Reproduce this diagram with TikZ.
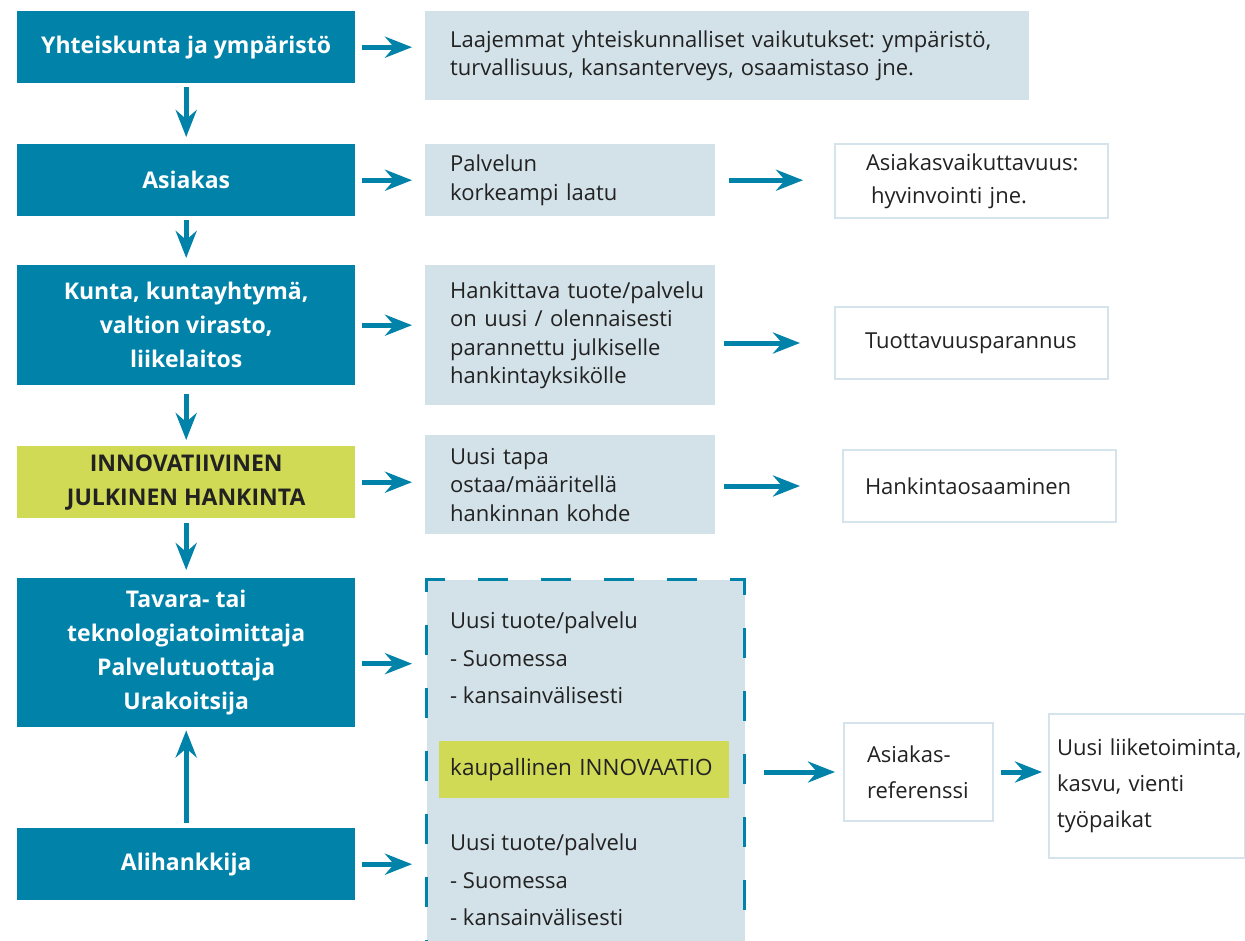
\documentclass[tikz,border=0pt]{standalone}
\usepackage{fontspec}
\setmainfont{Open Sans}
\usetikzlibrary{arrows.meta}
\frenchspacing

\definecolor{hblue}{HTML}{0082A9}
\definecolor{hlime}{HTML}{D1DA55}
\definecolor{hgrey}{HTML}{D3E1E8}
\definecolor{hedge}{HTML}{D5E4EC}
\definecolor{htext}{HTML}{222222}

\tikzset{
  lbox/.style={fill=hblue, text=white, anchor=north west, inner sep=0pt,
    minimum width=338pt, minimum height=72pt, align=center,
    font=\fontsize{23}{34}\selectfont\bfseries},
  gbox/.style={fill=hgrey, text=htext, anchor=north west, inner xsep=0pt, inner ysep=0pt,
    align=left, execute at begin node={\leftskip=25pt},
    font=\fontsize{22}{28.5}\selectfont},
  wbox/.style={fill=white, draw=hedge, line width=2pt, text=htext, anchor=north west,
    inner xsep=0pt, inner ysep=0pt, align=left,
    font=\fontsize{22}{36}\selectfont},
  itext/.style={text=htext, anchor=north west, inner sep=0pt, align=left,
    font=\fontsize{22}{37.5}\selectfont},
  arr/.style={draw=hblue, line width=5pt, -{Stealth[length=27pt,width=21pt,inset=9pt]}},
}

\begin{document}
\begin{tikzpicture}[x=1pt,y=-1pt]
\useasboundingbox (0,0) rectangle (1245,941);
% left column
\node[lbox] (yht) at (17,11) {Yhteiskunta ja ympäristö};
\node[lbox] (asi) at (17,144) {Asiakas};
\node[lbox, minimum height=120pt] (kun) at (17,265) {Kunta, kuntayhtymä,\\valtion virasto,\\liikelaitos};
\node[lbox, fill=hlime, text=htext] (ijh) at (17,446) {INNOVATIIVINEN\\JULKINEN HANKINTA};
\node[lbox, minimum height=149pt] (tav) at (17,578) {Tavara- tai\\teknologiatoimittaja\\Palvelutuottaja\\Urakoitsija};
\node[lbox] (ali) at (17,828) {Alihankkija};
%
% middle column
\node[gbox, text width=604pt, minimum height=89pt] (laa) at (425,11) {Laajemmat yhteiskunnalliset vaikutukset: ympäristö,\\turvallisuus, kansanterveys, osaamistaso jne.};
\node[gbox, text width=290pt, minimum height=72pt] (pal) at (425,144) {Palvelun\\korkeampi laatu};
\node[gbox, text width=290pt, minimum height=140pt] (hkt) at (425,265) {Hankittava tuote/palvelu\\on uusi / olennaisesti\\parannettu julkiselle\\hankintayksikölle};
\node[gbox, text width=290pt, minimum height=99pt] (uta) at (425,435) {Uusi tapa\\ostaa/määritellä\\hankinnan kohde};
\node[fill=hgrey, draw=hblue, line width=3pt, dash pattern=on 30pt off 33pt, anchor=north west,
  inner sep=0pt, minimum width=318pt, minimum height=390pt] (uus) at (425,578) {};
\node[itext] (ut1) at (450,612) {Uusi tuote/palvelu\\- Suomessa\\- kansainvälisesti};
\node[fill=hlime, text=htext, anchor=north west, inner sep=0pt, minimum width=290pt, minimum height=57pt,
  text width=290pt, align=left, execute at begin node={\leftskip=11pt},
  font=\fontsize{22.5}{28}\selectfont] (kin) at (439,741) {kaupallinen INNOVAATIO};
\node[itext] (ut2) at (450,834) {Uusi tuote/palvelu\\- Suomessa\\- kansainvälisesti};
%
% right column
\node[wbox, text width=273pt, minimum height=74pt, font=\fontsize{22}{33}\selectfont,
  execute at begin node={\leftskip=31pt}] (asv) at (834,143) {Asiakasvaikuttavuus:\\\hspace*{5pt}hyvinvointi jne.};
\node[wbox, text width=273pt, minimum height=72pt, execute at begin node={\leftskip=30pt}] (tuo) at (834,306) {Tuottavuusparannus};
\node[wbox, text width=273pt, minimum height=72pt, execute at begin node={\leftskip=22pt}] (hos) at (842,449) {Hankintaosaaminen};
\node[wbox, text width=149pt, minimum height=98pt, execute at begin node={\leftskip=23pt}] (ref) at (843,722) {Asiakas-\\referenssi};
\node[wbox, text width=196pt, minimum height=144pt, execute at begin node={\leftskip=8pt}] (liik) at (1048,713) {Uusi liiketoiminta,\\kasvu, vienti\\työpaikat};
%
% arrows down the left column
\draw[arr, shorten <=4pt, shorten >=7pt] (yht) -- (asi);
\draw[arr, shorten <=4pt, shorten >=7pt] (asi) -- (kun);
\draw[arr, shorten <=9pt, shorten >=6pt] (kun) -- (ijh);
\draw[arr, shorten <=5pt, shorten >=8pt] (ijh) -- (tav);
\draw[arr, shorten <=5pt, shorten >=3pt] (ali) -- (tav);
%
% arrows to the right
\draw[arr, shorten <=7pt, shorten >=13pt] (yht.east) -- (yht.east -| laa.west);
\draw[arr, shorten <=7pt, shorten >=13pt] (asi.east) -- (asi.east -| pal.west);
\draw[arr, shorten <=7pt, shorten >=13pt] (kun.east) -- (kun.east -| hkt.west);
\draw[arr, shorten <=7pt, shorten >=13pt] (ijh.east) -- (ijh.east -| uta.west);
\draw[arr, shorten <=7pt, shorten >=13pt] ([yshift=-11pt]tav.east) -- ([yshift=-11pt]tav.east -| uus.west);
\draw[arr, shorten <=7pt, shorten >=13pt] (ali.east) -- (ali.east -| uus.west);
%
\draw[arr, shorten <=14pt, shorten >=31pt] (pal.east) -- (pal.east -| asv.west);
\draw[arr, shorten <=9pt, shorten >=34pt] (tuo.west -| hkt.east) -- (tuo.west);
\draw[arr, shorten <=9pt, shorten >=42pt] (hos.west -| uta.east) -- (hos.west);
\draw[arr, shorten <=18pt, shorten >=8pt] (ref.west -| uus.east) -- (ref.west);
\draw[arr, shorten <=7pt, shorten >=6pt] (ref.east) -- (ref.east -| liik.west);
\end{tikzpicture}
\end{document}
